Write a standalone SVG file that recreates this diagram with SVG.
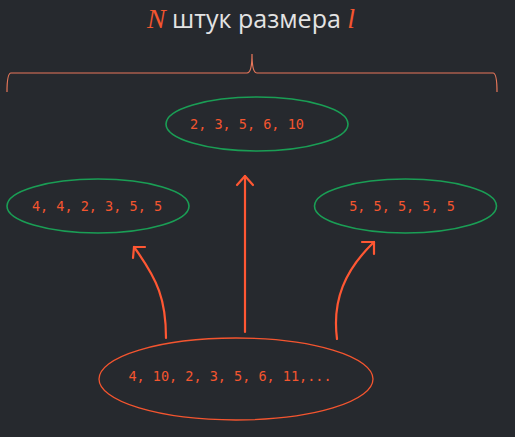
<svg xmlns="http://www.w3.org/2000/svg" width="515" height="437" viewBox="0 0 515 437">
<defs>
<style>
.bg{fill:#26292e}
.ell{fill:none;stroke:#1a9e55;stroke-width:1.6}
.src{fill:none;stroke:#f4552f;stroke-width:1.3}
.num{font-family:"DejaVu Sans Mono","Liberation Mono",monospace;font-size:13.5px;fill:#f4552f;text-anchor:middle}
.arr{fill:none;stroke:#ff5733;stroke-width:2.2;stroke-linecap:round;stroke-linejoin:round}
.brace{fill:none;stroke:#e8775a;stroke-width:1.2}
</style>
</defs>
<rect class="bg" x="0" y="0" width="515" height="437"/>
<g id="title">
<text x="251" y="28" text-anchor="middle" font-family="'Open Sans','Noto Sans',sans-serif" font-size="25" fill="#e3e3e3"><tspan font-family="'Liberation Serif',serif" font-style="italic" fill="#f4552f" font-size="28">N</tspan> штук размера <tspan font-family="'Liberation Serif',serif" font-style="italic" fill="#f4552f" font-size="28">l</tspan></text>
</g>
<g id="brace">
<path class="brace" d="M7,92 C7,80 8,73 11,73 L247,73 C250,73 252,66 252,54 C252,66 254,73 257,73 L493,73 C496,73 497,80 497,92"/>
</g>
<g id="node-top">
<ellipse class="ell" cx="257" cy="124" rx="91" ry="27"/>
<text class="num" x="247" y="129">2, 3, 5, 6, 10</text>
</g>
<g id="node-left">
<ellipse class="ell" cx="98" cy="206" rx="91" ry="27"/>
<text class="num" x="97" y="211">4, 4, 2, 3, 5, 5</text>
</g>
<g id="node-right">
<ellipse class="ell" cx="405.5" cy="206" rx="91" ry="27"/>
<text class="num" x="402" y="211">5, 5, 5, 5, 5</text>
</g>
<g id="node-source">
<ellipse class="src" cx="236" cy="379" rx="137" ry="41"/>
<text class="num" x="230" y="381">4, 10, 2, 3, 5, 6, 11,...</text>
</g>
<g id="connectors">
<path class="arr" d="M245,332 L245,176"/>
<path class="arr" d="M237,185 L245,176 L253,185"/>
<path class="arr" d="M166,338 C166,300 158,280 134,247"/>
<path class="arr" d="M145,247 L134,247 L133,258"/>
<path class="arr" d="M337,339 C332,300 345,270 374,242"/>
<path class="arr" d="M362,242 L374,242 L374,254"/>
</g>
</svg>
